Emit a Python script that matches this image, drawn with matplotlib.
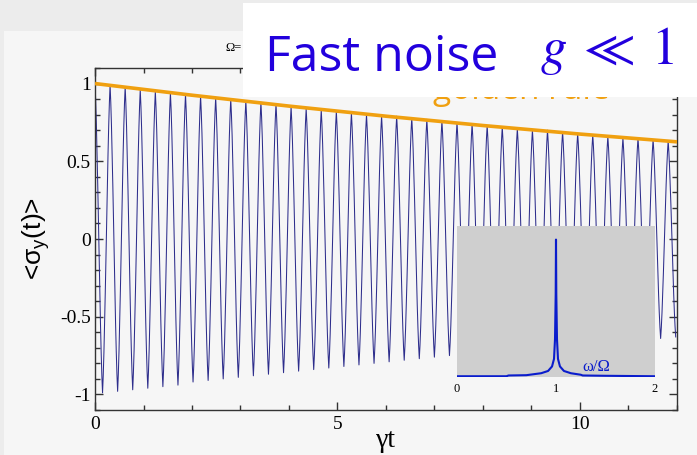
import numpy as np
import matplotlib
matplotlib.use("Agg")
import matplotlib.pyplot as plt
from matplotlib.patches import Rectangle

# ---- data ----
# oscillation period of <sigma_y(t)> (time between neighbouring maxima)
period = 0.311
# height of each maximum (t = 0, period, 2*period, ...)
peak_vals = [1.00, 0.99, 0.98, 0.96, 0.95, 0.94, 0.93, 0.92, 0.91, 0.90,
             0.89, 0.88, 0.87, 0.85, 0.84, 0.83, 0.82, 0.81, 0.80, 0.79,
             0.79, 0.78, 0.77, 0.76, 0.75, 0.74, 0.73, 0.72, 0.71, 0.70,
             0.70, 0.69, 0.68, 0.67, 0.66, 0.65, 0.65, 0.64, 0.63]
# depth of each minimum (half a period after each maximum)
trough_vals = [-0.99, -0.98, -0.97, -0.96, -0.95, -0.94, -0.92, -0.91, -0.90, -0.89,
               -0.88, -0.87, -0.86, -0.85, -0.84, -0.83, -0.82, -0.81, -0.80, -0.79,
               -0.78, -0.77, -0.76, -0.75, -0.74, -0.73, -0.73, -0.72, -0.71, -0.70,
               -0.69, -0.68, -0.67, -0.67, -0.66, -0.65, -0.64, -0.64, -0.63]

# golden rule envelope
gr_t = [0, 2, 4, 6, 8, 10, 12]
gr_vals = [1.0, 0.925, 0.855, 0.79, 0.73, 0.675, 0.625]

# inset spectrum
w_pts = [0.0, 0.5, 0.52, 0.7, 0.85, 0.92, 0.96, 0.98, 0.99, 0.997, 1.0,
         1.003, 1.01, 1.02, 1.04, 1.08, 1.15, 1.25, 1.27, 1.5, 2.0]
s_vals = [0.005, 0.005, 0.01, 0.012, 0.025, 0.04, 0.07, 0.12, 0.25, 0.55, 0.91,
          0.55, 0.25, 0.12, 0.07, 0.04, 0.025, 0.015, 0.01, 0.008, 0.005]

x_ticks = [0, 5, 10]
y_ticks = [-1, -0.5, 0, 0.5, 1]
y_labels = ['-1', '-0.5', '0', '0.5', '1']

# line through the extrema, slightly rounded near each tip
ext_t = []
ext_v = []
for k in range(len(peak_vals)):
    ext_t.append(k * period)
    ext_v.append(peak_vals[k])
    ext_t.append((k + 0.5) * period)
    ext_v.append(trough_vals[k])

s = np.linspace(0, 1, 12)[:-1]
line_t = []
line_v = []
for i in range(len(ext_t) - 1):
    ta, tb = ext_t[i], ext_t[i + 1]
    va, vb = ext_v[i], ext_v[i + 1]
    shape = 0.5 * s + 0.5 * (1 - np.cos(np.pi * s)) / 2
    line_t.extend(ta + (tb - ta) * s)
    line_v.extend(va + (vb - va) * shape)
line_t.append(ext_t[-1])
line_v.append(ext_v[-1])

W, H = 697, 455
fig = plt.figure(figsize=(W / 100, H / 100), dpi=100)
fig.patch.set_facecolor('#f6f6f6')

# grey slide strips
fig.patches.append(Rectangle((0, 1 - 31 / H), 1, 31 / H, transform=fig.transFigure,
                             facecolor='#ececec', edgecolor='none', zorder=-5))
fig.patches.append(Rectangle((0, 0), 4 / W, 1, transform=fig.transFigure,
                             facecolor='#ececec', edgecolor='none', zorder=-5))

# main axes
ax = fig.add_axes([95 / W, (H - 410) / H, 582 / W, 342 / H])
ax.set_facecolor('none')
ax.plot(line_t, line_v, color='#2e2e8c', lw=0.75, zorder=2)
ax.plot(gr_t, gr_vals, color='#f0a010', lw=2.6, zorder=3, solid_capstyle='butt')
ax.set_xlim(0, 12)
ax.set_ylim(-1.1, 1.1)

serif = 'Liberation Serif'
ax.set_xticks(x_ticks)
ax.set_xticklabels([str(v) for v in x_ticks], family=serif, fontsize=14)
ax.set_yticks(y_ticks)
ax.set_yticklabels(y_labels, family=serif, fontsize=14)
ax.set_xticks(np.arange(0, 12.01, 1), minor=True)
ax.set_yticks(np.arange(-1.1, 1.101, 0.1), minor=True)
ax.tick_params(which='both', direction='in', top=True, right=True, color='#333333')
ax.tick_params(which='major', length=6, width=1)
ax.tick_params(which='minor', length=3.5, width=1)
ax.tick_params(axis='y', pad=3)
ax.tick_params(axis='x', pad=4)
for sp in ax.spines.values():
    sp.set_color('#333333')
    sp.set_linewidth(1.0)

ax.set_xlabel('γt', family=serif, fontsize=20, labelpad=-3)
ax.set_ylabel(r'<σ$_\mathregular{y}$(t)>', family='Liberation Sans', fontsize=19, labelpad=6)

# inset with the spectrum
ins = fig.add_axes([457 / W, (H - 377) / H, 198 / W, 151 / H])
ins.set_facecolor('#cfcfcf')
ins.plot(w_pts, s_vals, color='#0a1ccc', lw=1.5)
ins.set_xlim(0, 2)
ins.set_ylim(0, 1)
for sp in ins.spines.values():
    sp.set_visible(False)
ins.set_yticks([])
ins.set_xticks([0, 1, 2])
ins.set_xticklabels(['0', '1', '2'], family=serif, fontsize=9)
ins.tick_params(axis='x', length=0, pad=4)
ins.text(1.41, 0.065, 'ω/Ω', color='#0a1ccc', family=serif, fontsize=12,
         ha='center', va='center')

# pieces of the original plot that lie under the title box
fig.text(225 / W, 1 - 48 / H, 'Ω=', family=serif, fontsize=9, va='center', zorder=5)
fig.text(433 / W, 1 - 99 / H, 'golden rule', color='#f0a010', family='Open Sans',
         fontsize=24, va='baseline', zorder=5)

# white title box
fig.patches.append(Rectangle((243 / W, 1 - 97 / H), 1 - 243 / W, 94 / H,
                             transform=fig.transFigure, facecolor='white',
                             edgecolor='none', zorder=6))
fig.text(265 / W, 1 - 71 / H, 'Fast noise', color='#2200dd', family='Open Sans',
         fontsize=36, va='baseline', zorder=7)
fig.text(540 / W, 1 - 64 / H, r'$g\;\ll\;1$', color='#2200dd', math_fontfamily='stix',
         fontsize=38, va='baseline', zorder=7)

fig.savefig('out.png', dpi=100)
